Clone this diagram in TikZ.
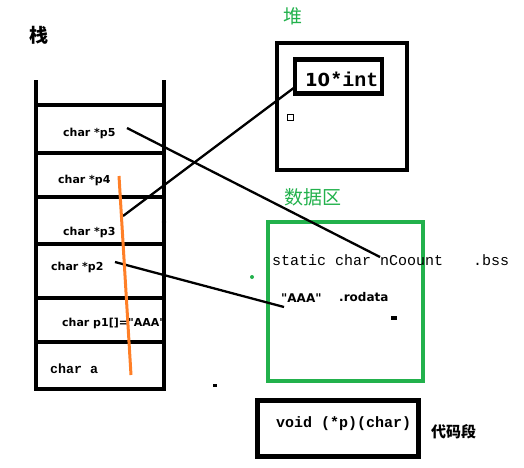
\documentclass[tikz,border=0pt]{standalone}
\usepackage{fontspec}
\newfontfamily\cjk{Noto Sans CJK SC}
\newfontfamily\lbl{DejaVu Sans}
\newfontfamily\mono{Liberation Mono}
\definecolor{pgreen}{RGB}{34,177,76}
\definecolor{porange}{RGB}{255,127,39}
\begin{document}
\begin{tikzpicture}[x=1pt,y=-1pt,
  lbltext/.style={anchor=west,inner sep=0pt,font=\lbl\bfseries\fontsize{11}{13}\selectfont},
  monotext/.style={anchor=west,inner sep=0pt,font=\mono\bfseries\fontsize{15}{17}\selectfont},
  cjklabel/.style={anchor=west,inner sep=0pt,font=\cjk\fontsize{19}{21}\selectfont},
  wall/.style={line width=4pt},
  ptr/.style={line width=2.3pt},
  box/.style={draw,line width=4.5pt}]
\useasboundingbox (0,0) rectangle (524,467);
% ---- stack ----
\node[cjklabel,font=\cjk\bfseries\fontsize{19}{21}\selectfont] (stk) at (29,35) {栈};
\draw[wall] (36,80) -- (36,389) -- (164,389) -- (164,80);
\foreach \yy in {105,153,197,244,298,342}
  \draw[wall] (34,\yy) -- (164,\yy);
\node[lbltext] (p5) at (63,133) {char *p5};
\node[lbltext] (p4) at (58,180) {char *p4};
\node[lbltext] (p3) at (63,232) {char *p3};
\node[lbltext] (p2) at (51,267) {char *p2};
\node[lbltext] (p1) at (62,323) {char p1[]="AAA"};
\node[monotext,font=\mono\bfseries\fontsize{13.3}{15}\selectfont] (ca) at (50,369) {char a};
\fill (164,222) circle (2.2);
% ---- heap ----
\node[cjklabel,text=pgreen] (heaplbl) at (283,16) {堆};
\draw[box] (277,43) rectangle (407,170);
\node[draw,line width=4.5pt,minimum width=87pt,minimum height=34pt,inner sep=0pt] (arr) at (338.5,76.5) {};
\node[anchor=west,inner sep=0pt] (arrtxt) at (305,79) {\lbl\bfseries\fontsize{18}{20}\selectfont 10\mono\bfseries\fontsize{20}{22}\selectfont *int};
\draw[line width=1pt] (287,114) rectangle (293,120);
% ---- data ----
\node[cjklabel,text=pgreen] (datalbl) at (284,197) {数据区};
\draw[draw=pgreen,line width=4.5pt] (268,222) rectangle (423,381);
\node[monotext,font=\mono\fontsize{15}{17}\selectfont] (nc) at (272,260) {static char nCoount};
\node[monotext,font=\mono\fontsize{15}{17}\selectfont] (bss) at (473,260) {.bss};
\node[lbltext,font=\lbl\bfseries\fontsize{12}{14}\selectfont] (aaa) at (281,298) {"AAA"};
\node[lbltext,font=\lbl\bfseries\fontsize{12}{14}\selectfont] (ro) at (339,297) {.rodata};
\fill (391,316) rectangle (397,320);
\fill[pgreen] (252,277) circle (2);
\fill (213,384) rectangle (217,387);
% ---- code ----
\draw[box,line width=5pt] (257,400) rectangle (418,456);
\node[monotext] (fp) at (276,424) {void (*p)(char)};
\node[anchor=west,inner sep=0pt,font=\cjk\bfseries\fontsize{15}{17}\selectfont] (codelbl) at (431,432) {代码段};
% ---- pointers ----
\coordinate (p5s) at (127,128);
\coordinate (p5e) at (380,257);
\coordinate (p3s) at (123,216);
\coordinate (p3e) at (295,87);
\coordinate (p2s) at (115,262);
\coordinate (p2e) at (284,307);
\draw[ptr] (p5s) -- (p5e);
\draw[ptr] (p3s) -- (p3e);
\draw[ptr] (p2s) -- (p2e);
\coordinate (ot) at (119,176);
\coordinate (ob) at (131,375);
\draw[porange,line width=3pt] (ot) -- (ob);
\end{tikzpicture}
\end{document}
